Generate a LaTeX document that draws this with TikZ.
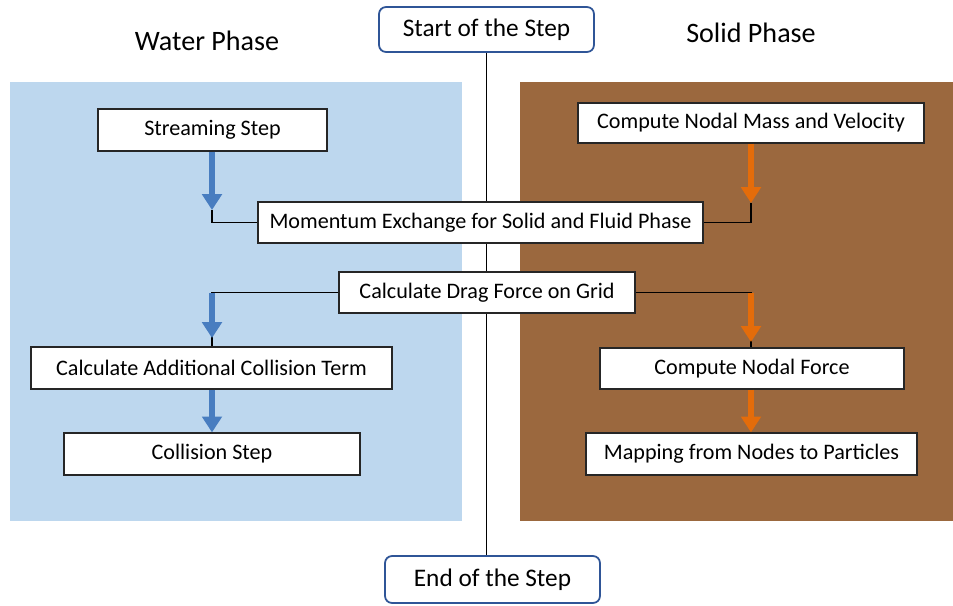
\documentclass[tikz,border=0pt]{standalone}
\usepackage{fontspec}
\setmainfont{Carlito}
\usetikzlibrary{arrows.meta,backgrounds}
\definecolor{waterbg}{RGB}{189,215,238}
\definecolor{solidbg}{RGB}{155,104,62}
\definecolor{waterarr}{RGB}{72,125,192}
\definecolor{solidarr}{RGB}{228,108,10}
\definecolor{stepline}{RGB}{47,85,151}
\tikzset{
	box/.style={draw=black!85, fill=white, line width=0.7pt, inner sep=0pt, font=\fontsize{12.6}{15}\selectfont},
	stepbox/.style={draw=stepline, fill=white, rounded corners=4pt, line width=1pt, minimum width=4.3cm, inner sep=0pt, font=\fontsize{14.4}{17}\selectfont},
	phase/.style={font=\fontsize{16}{19}\selectfont},
	waterflow/.style={draw=waterarr, line width=3.2pt, -{Triangle[width=11pt,length=9pt]}},
	solidflow/.style={draw=solidarr, line width=3.2pt, -{Triangle[width=11pt,length=9pt]}},
	link/.style={line width=0.9pt, black}
}

\begin{document}
\begin{tikzpicture}[x=0.02cm, y=-0.02cm]
		%%%%% START %%%%%
		\useasboundingbox (0, 0) rectangle (953, 605);
		
		\node[phase] (waterttl) at (207, 41) {Water Phase};
		\node[phase] (solidttl) at (751, 33) {Solid Phase};
		
		\node[stepbox, minimum height=0.9cm] (start) at (486.5, 29.5) {Start of the Step};
		\node[stepbox, minimum height=0.94cm] (end) at (492.5, 579.5) {End of the Step};
		
		% water side
		\node[box, minimum width=4.58cm, minimum height=0.84cm] (stream) at (212.5, 130) {Streaming Step};
		\node[box, minimum width=7.22cm, minimum height=0.84cm] (addcoll) at (211.5, 368) {Calculate Additional Collision Term};
		\node[box, minimum width=5.92cm, minimum height=0.84cm] (collision) at (212, 454) {Collision Step};
		
		% solid side
		\node[box, minimum width=6.92cm, minimum height=0.8cm] (nodalmass) at (751, 123) {Compute Nodal Mass and Velocity};
		\node[box, minimum width=6.08cm, minimum height=0.82cm] (nodalforce) at (752, 368.5) {Compute Nodal Force};
		\node[box, minimum width=6.62cm, minimum height=0.84cm] (mapping) at (751.5, 454) {Mapping from Nodes to Particles};
		
		% shared steps
		\node[box, minimum width=8.9cm, minimum height=0.82cm] (momentum) at (480.5, 222.5) {Momentum Exchange for Solid and Fluid Phase};
		\node[box, minimum width=5.92cm, minimum height=0.82cm] (drag) at (487, 292.5) {Calculate Drag Force on Grid};
		
		\begin{scope}[on background layer]
			\fill[waterbg] (10, 82) rectangle (462, 521);
			\fill[solidbg] (520, 82) rectangle (953, 521);
			\draw[link] (start.south) -- (start.south |- end.north);
		\end{scope}
		
		\coordinate (wA) at (212, 210);
		\coordinate (wB) at (212, 338);
		\coordinate (sA) at (751, 203);
		\coordinate (sB) at (751, 342);
		
		\draw[link] (wA) |- (momentum.west);
		\draw[link] (sA) |- (momentum.east);
		\draw[link] (drag.west) -| (addcoll.north -| wB);
		\draw[link] (drag.east) -| (nodalforce.north -| sB);
		
		\draw[waterflow] (stream.south -| wA) -- (wA);
		\draw[solidflow] (nodalmass.south -| sA) -- (sA);
		\draw[waterflow] (wB |- drag.west) -- (wB);
		\draw[solidflow] (sB |- drag.east) -- (sB);
		\draw[waterflow] (addcoll.south -| wA) -- (collision.north -| wA);
		\draw[solidflow] (nodalforce.south -| sA) -- (mapping.north -| sA);
		
		%%%%% END %%%%%
	\end{tikzpicture}
\end{document}
